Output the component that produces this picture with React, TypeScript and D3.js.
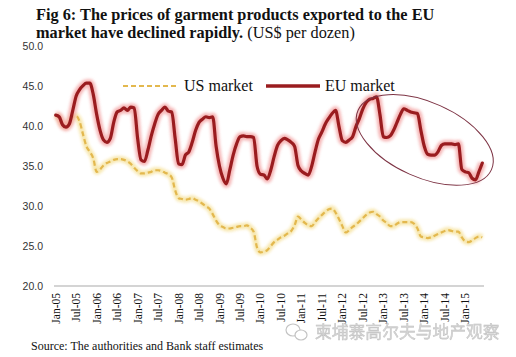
import React from "react";
import * as d3 from "d3";

// ---------- data ----------
const months: Date[] = d3.timeMonth.range(new Date(2005, 0, 1), new Date(2015, 6, 1)); // Jan-05 .. Jun-15

const tickLabels = [
  "Jan-05", "Jul-05", "Jan-06", "Jul-06", "Jan-07", "Jul-07", "Jan-08", "Jul-08",
  "Jan-09", "Jul-09", "Jan-10", "Jul-10", "Jan-11", "Jul-11", "Jan-12", "Jul-12",
  "Jan-13", "Jul-13", "Jan-14", "Jul-14", "Jan-15",
];

const euMarket = [
  41.4, 41.2, 40.2, 39.9, 40.3, 42.0, 43.8, 44.6, 45.1, 45.4, 45.4, 44.0,
  41.5, 39.5, 38.3, 38.0, 38.5, 40.5, 41.8, 42.0, 42.3, 42.0, 42.4, 42.3,
  38.5, 35.8, 35.6, 37.0, 38.8, 40.3, 41.5, 42.0, 42.4, 41.9, 41.8, 38.5,
  35.3, 35.2, 36.4, 36.8, 38.0, 39.5, 40.5, 40.9, 41.2, 41.1, 41.2, 37.5,
  35.0, 33.5, 32.8, 34.5, 36.4, 37.8, 38.7, 38.8, 38.7, 38.7, 38.6, 35.0,
  34.0, 33.9, 33.4, 34.5, 36.2, 37.6, 38.2, 38.5, 38.3, 38.0, 37.5, 35.1,
  34.4, 34.1, 33.9, 35.0, 36.8, 38.4, 39.3, 40.3, 41.0, 41.6, 42.0, 40.0,
  38.2, 38.0, 38.3, 38.7, 40.0, 41.0, 42.2, 43.0, 43.4, 43.5, 43.7, 41.5,
  38.7, 38.6, 38.8, 39.5, 40.5, 41.5, 42.2, 42.0, 41.8, 41.7, 41.6, 39.5,
  37.5, 36.5, 36.4, 36.4, 36.8, 37.6, 37.8, 37.8, 37.8, 37.7, 37.8, 34.6,
  34.3, 34.2, 33.5, 33.3, 34.3, 35.4,
];

const usMarket = [
  41.4, 41.0, 40.2, 40.0, 40.5, 41.2, 41.3, 40.6, 39.0, 37.5, 36.8, 36.0,
  34.3, 34.6, 35.1, 35.4, 35.6, 35.8, 35.9, 35.9, 35.8, 35.6, 35.3, 34.8,
  34.4, 34.1, 34.1, 34.2, 34.3, 34.5, 34.5, 34.4, 34.2, 34.0, 33.6, 32.0,
  31.0, 30.9, 30.8, 30.9, 31.0, 30.8, 30.6, 30.3, 30.0, 29.7, 29.0, 28.2,
  27.6, 27.4, 27.2, 27.2, 27.3, 27.4, 27.5, 27.5, 27.6, 27.3, 26.8, 24.8,
  24.2, 24.3, 24.5, 25.0, 25.5, 25.8, 26.1, 26.3, 26.6, 26.9, 27.6, 28.7,
  28.3, 27.9, 27.6, 27.5, 28.0, 28.5, 28.9, 29.3, 29.6, 29.7, 29.2, 28.4,
  27.5, 26.7, 27.0, 27.4, 27.7, 28.1, 28.5, 28.9, 29.2, 29.3, 29.0, 28.7,
  28.2, 27.9, 27.5, 27.5, 27.8, 28.0, 28.0, 28.0, 28.0, 27.8, 27.2, 26.2,
  26.1, 26.0, 26.1, 26.3, 26.5, 26.7, 26.9, 27.0, 26.9, 26.8, 26.8, 26.1,
  25.6, 25.5, 25.7, 26.0, 26.2, 26.1,
];

const yTicks = [20, 25, 30, 35, 40, 45, 50];
const seriesNames = ["US market", "EU market"];
const titleLine1 = "Fig 6: The prices of garment products exported to the EU";
const titleLine2Bold = "market have declined rapidly.";
const titleLine2Normal = " (US$ per dozen)";
const sourceText = "Source: The authorities and Bank staff estimates";
const watermark = "柬埔寨高尔夫与地产观察";
// highlighted region (annotation ellipse), in data terms
const highlightCenterIndex = 108;
const highlightCenterValue = 38.3;

// ---------- layout ----------
const W = 516;
const H = 357;
const serif = "'Liberation Serif', 'Times New Roman', 'DejaVu Serif', serif";
const sans = "'Liberation Sans', Arial, 'DejaVu Sans', sans-serif";

export default function App() {
  const idx = months.map((_, i) => i);
  const x = d3.scaleBand<number>().domain(idx).range([54, 484]).padding(0);
  const cx = (i: number) => (x(i) as number) + x.bandwidth() / 2;
  const y = d3.scaleLinear().domain([20, 50]).range([286, 46.5]);

  const line = d3
    .line<number>()
    .x((_, i) => cx(i))
    .y((d) => y(d))
    .curve(d3.curveMonotoneX);

  const euPath = line(euMarket) || "";
  const usPath = line(usMarket) || "";

  const fmt = d3.format(".1f");
  const tickIdx = tickLabels.map((_, k) => k * 6);

  const ecx = cx(highlightCenterIndex) + 0.5;
  const ecy = y(highlightCenterValue);

  return (
    <div style={{ position: "fixed", left: 0, top: 0, width: W, height: H, background: "#fff" }}>
      <svg width={W} height={H} viewBox={`0 0 ${W} ${H}`} style={{ display: "block" }}>
        <defs>
          <filter id="blurA" x="-5%" y="-20%" width="110%" height="140%">
            <feGaussianBlur stdDeviation="1.6" />
          </filter>
        </defs>
        <rect x={0} y={0} width={W} height={H} fill="#ffffff" />

        {/* title */}
        <text x={36} y={20} fontFamily={serif} fontSize={16.3} fontWeight="bold" fill="#111">
          {titleLine1}
        </text>
        <text x={36} y={37.5} fontFamily={serif} fontSize={16.3} fill="#111">
          <tspan fontWeight="bold">{titleLine2Bold}</tspan>
          <tspan>{titleLine2Normal}</tspan>
        </text>

        {/* y tick labels */}
        {yTicks.map((t) => (
          <text key={t} x={43} y={y(t)} dy="0.35em" textAnchor="end" fontFamily={sans} fontSize={10.5} fill="#333">
            {fmt(t)}
          </text>
        ))}

        {/* x axis line */}
        <line x1={x(0)} x2={(x(idx.length - 1) as number) + x.bandwidth()} y1={y(20)} y2={y(20)} stroke="#d4d4d4" strokeWidth={2} />

        {/* x tick labels */}
        {tickIdx.map((i, k) => (
          <text
            key={k}
            transform={`translate(${cx(i) + 4},${y(20) + 7}) rotate(-90)`}
            textAnchor="end"
            fontFamily={serif}
            fontSize={11.5}
            fill="#111"
          >
            {tickLabels[k]}
          </text>
        ))}

        {/* US line glow + dashed line */}
        <path d={usPath} fill="none" stroke="#f6e3a0" strokeWidth={6} strokeLinejoin="round" opacity={0.85} filter="url(#blurA)" />
        <path d={usPath} fill="none" stroke="#e3b84e" strokeWidth={2.2} strokeDasharray="5,3" strokeLinejoin="round" />

        {/* EU line glow + line */}
        <path d={euPath} fill="none" stroke="#f3a3a3" strokeWidth={8} strokeLinejoin="round" opacity={0.8} filter="url(#blurA)" />
        <path d={euPath} fill="none" stroke="#9a1c1f" strokeWidth={3.2} strokeLinejoin="round" strokeLinecap="round" />

        {/* highlight ellipse */}
        <ellipse
          cx={ecx}
          cy={ecy}
          rx={73}
          ry={37.5}
          transform={`rotate(24 ${ecx} ${ecy})`}
          fill="none"
          stroke="#7d3344"
          strokeWidth={1}
        />

        {/* legend */}
        <line x1={123} x2={178} y1={86} y2={86} stroke="#f6e3a0" strokeWidth={6} opacity={0.85} filter="url(#blurA)" />
        <line x1={123} x2={178} y1={86} y2={86} stroke="#e3b84e" strokeWidth={2.2} strokeDasharray="5,3" />
        <text x={184} y={91} fontFamily={serif} fontSize={16} fill="#111">
          {seriesNames[0]}
        </text>
        <line x1={266} x2={320} y1={86} y2={86} stroke="#f3a3a3" strokeWidth={8} opacity={0.8} filter="url(#blurA)" />
        <line x1={266} x2={320} y1={86} y2={86} stroke="#9a1c1f" strokeWidth={3.6} />
        <text x={325} y={91} fontFamily={serif} fontSize={16} fill="#111">
          {seriesNames[1]}
        </text>

        {/* source */}
        <text x={31} y={350} fontFamily={serif} fontSize={12} fill="#111">
          {sourceText}
        </text>

        {/* watermark */}
        <g opacity={0.9}>
          <ellipse cx={293} cy={330} rx={7} ry={6} fill="#fff" stroke="#bdbdbd" strokeWidth={1.2} />
          <ellipse cx={301} cy={335} rx={6} ry={5} fill="#fff" stroke="#bdbdbd" strokeWidth={1.2} />
          <text
            x={315}
            y={338}
            fontFamily="'Noto Sans CJK SC', sans-serif"
            fontSize={16.8}
            fill="#d0d0d0"
            stroke="#b8b8b8"
            strokeWidth={0.4}
          >
            {watermark}
          </text>
        </g>
      </svg>
    </div>
  );
}
